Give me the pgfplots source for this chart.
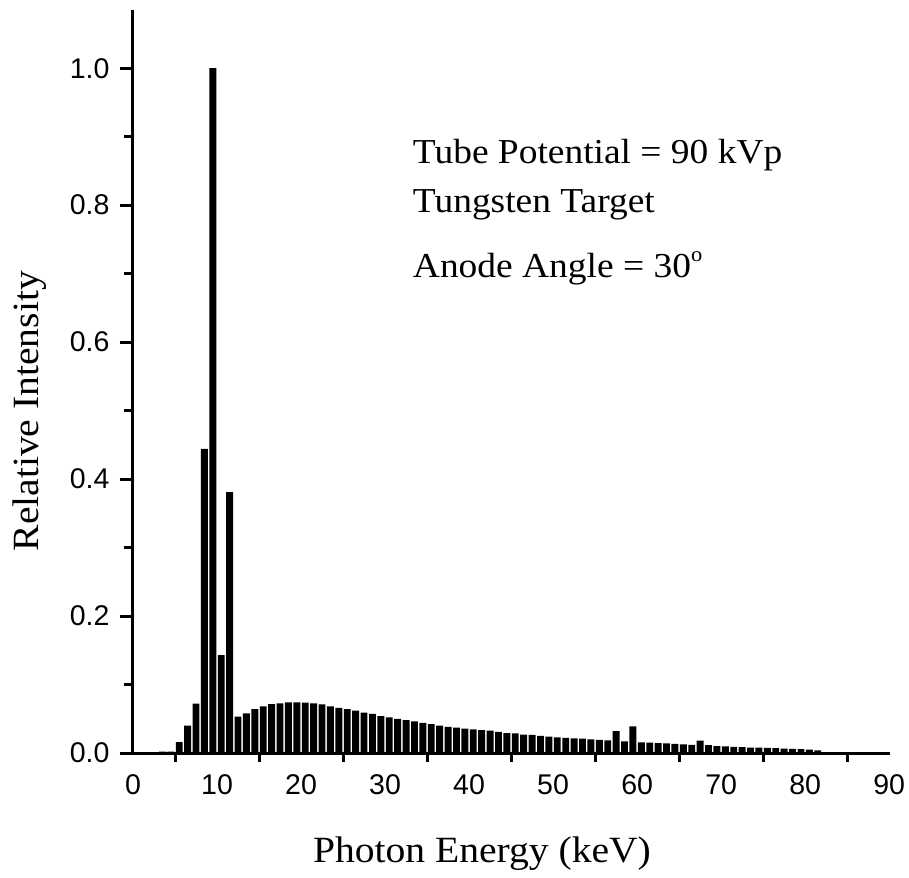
\documentclass[border=0pt]{standalone}
\usepackage{fontspec}
\setmainfont{Liberation Serif}
\newfontfamily\arial{Liberation Sans}
\newfontfamily\labfont[FakeStretch=1.07]{Liberation Serif}
\usepackage{pgfplots}
\pgfplotsset{compat=1.18}
\pgfplotstableread{
x y
3.5 0.002
4.5 0.002
5.5 0.016
6.5 0.040
7.5 0.072
8.5 0.444
9.5 1.000
10.5 0.143
11.5 0.381
12.5 0.053
13.5 0.058
14.5 0.064
15.5 0.068
16.5 0.0715
17.5 0.0725
18.5 0.074
19.5 0.074
20.5 0.0735
21.5 0.0725
22.5 0.071
23.5 0.068
24.5 0.066
25.5 0.064
26.5 0.062
27.5 0.059
28.5 0.057
29.5 0.054
30.5 0.052
31.5 0.050
32.5 0.048
33.5 0.046
34.5 0.044
35.5 0.042
36.5 0.040
37.5 0.038
38.5 0.037
39.5 0.0355
40.5 0.0345
41.5 0.0335
42.5 0.0325
43.5 0.031
44.5 0.029
45.5 0.0285
46.5 0.027
47.5 0.0265
48.5 0.025
49.5 0.024
50.5 0.023
51.5 0.022
52.5 0.0215
53.5 0.021
54.5 0.020
55.5 0.019
56.5 0.0185
57.5 0.032
58.5 0.017
59.5 0.039
60.5 0.0155
61.5 0.015
62.5 0.0145
63.5 0.014
64.5 0.0135
65.5 0.0125
66.5 0.012
67.5 0.018
68.5 0.0115
69.5 0.010
70.5 0.0095
71.5 0.009
72.5 0.0085
73.5 0.008
74.5 0.008
75.5 0.0075
76.5 0.007
77.5 0.0065
78.5 0.006
79.5 0.0055
80.5 0.005
81.5 0.004
}\spectrum
\begin{document}
\begin{tikzpicture}
\useasboundingbox (-133pt,-124pt) rectangle (776pt,753pt);
\begin{axis}[
  at={(0,0)}, anchor=south west,
  scale only axis, width=757pt, height=743pt,
  xmin=0, xmax=90.1, ymin=0, ymax=1.085,
  axis lines=left,
  axis line style={-, line width=3pt},
  tick align=outside,
  xtick={0,10,...,90},
  minor xtick={5,15,...,85},
  major x tick style={draw=none},
  ytick={0,0.2,...,1.0},
  minor ytick={0.1,0.3,...,0.9},
  every tick/.style={black, line width=3pt},
  major tick length=13pt,
  minor tick length=9pt,
  /pgf/number format/assume math mode=true,
  ticklabel style={font=\arial\fontsize{28.5}{32}\selectfont},
  yticklabel style={/pgf/number format/fixed, /pgf/number format/fixed zerofill, /pgf/number format/precision=1, xshift=-7pt},
  xticklabel style={yshift=-5pt},
  xlabel={Photon Energy (keV)},
  ylabel={Relative Intensity},
  label style={font=\labfont\fontsize{37}{42}\selectfont},
  xlabel style={at={(axis description cs:0.461,-0.135)}, anchor=center},
  ylabel style={at={(axis description cs:-0.137,0.46)}, anchor=center},
  clip=false,
]
\addplot[ybar, bar width=0.82, fill=black, draw=none] table[x=x, y=y] {\spectrum};
\node[anchor=base west, font=\labfont\fontsize{35}{40}\selectfont, inner sep=0pt] at (axis cs:33.3,0.861) {Tube Potential = 90 kVp};
\node[anchor=base west, font=\labfont\fontsize{35}{40}\selectfont, inner sep=0pt] at (axis cs:33.3,0.790) {Tungsten Target};
\node[anchor=base west, font=\labfont\fontsize{35}{40}\selectfont, inner sep=0pt] at (axis cs:33.3,0.695) {Anode Angle = 30\raisebox{0.95ex}{\fontsize{21}{21}\selectfont o}};
\end{axis}
\end{tikzpicture}
\end{document}
